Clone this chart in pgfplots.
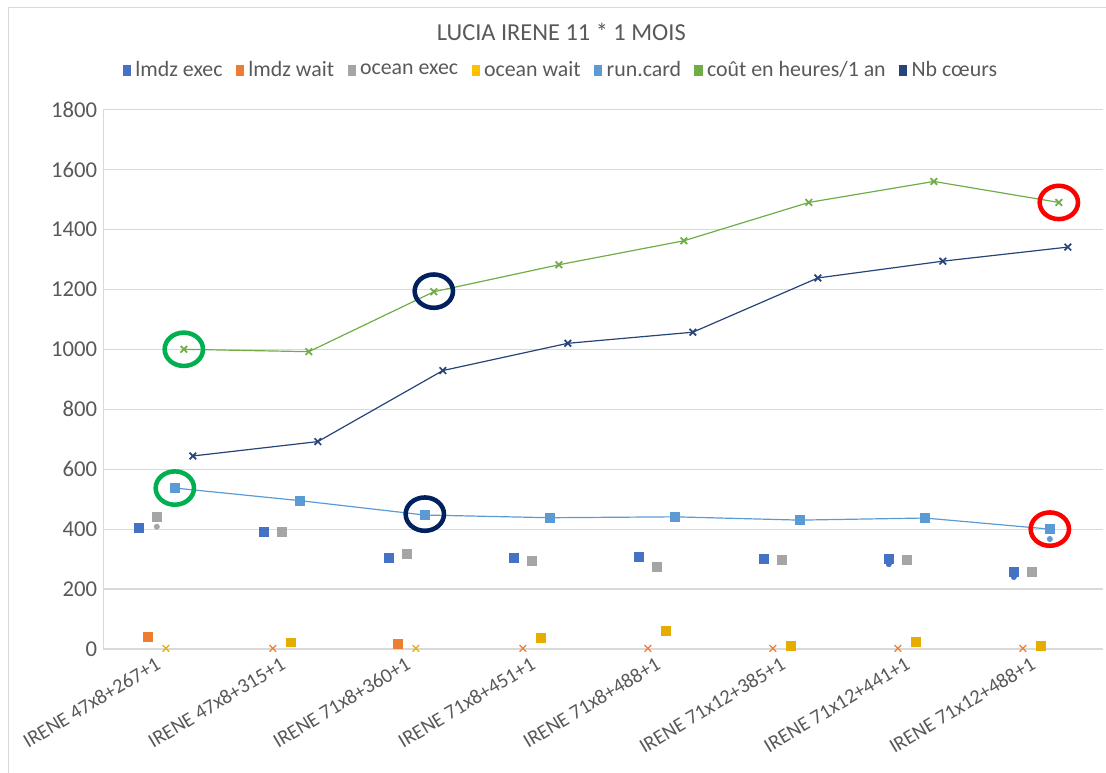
\documentclass[border=0pt]{standalone}
\usepackage{fontspec}
\setmainfont{Carlito}
\usepackage{pgfplots}
\pgfplotsset{compat=1.18}
\definecolor{cA}{HTML}{4472C4}
\definecolor{cB}{HTML}{ED7D31}
\definecolor{cC}{HTML}{A5A5A5}
\definecolor{cD}{HTML}{FFC000}
\definecolor{cE}{HTML}{5B9BD5}
\definecolor{cF}{HTML}{70AD47}
\definecolor{cG}{HTML}{264478}
\definecolor{txt}{HTML}{595959}
\definecolor{grd}{HTML}{D9D9D9}
\definecolor{cgreen}{HTML}{00B050}
\definecolor{cnavy}{HTML}{002060}
\begin{document}
\begin{tikzpicture}
\useasboundingbox (0,0) rectangle (829.5pt,579.75pt);
\draw[grd, line width=0.75pt] (6pt,0pt) -- (6pt,573.75pt) -- (829.5pt,573.75pt);
\begin{axis}[
  at={(77.5pt,93pt)}, anchor=south west,
  scale only axis, width=750pt, height=404.6pt,
  xmin=-0.5, xmax=7.5, ymin=0, ymax=1800,
  ytick={0,200,...,1800},
  xtick={0,1,...,7},
  xticklabels={IRENE 47x8+267+1,IRENE 47x8+315+1,IRENE 71x8+360+1,IRENE 71x8+451+1,IRENE 71x8+488+1,IRENE 71x12+385+1,IRENE 71x12+441+1,IRENE 71x12+488+1},
  xticklabel style={rotate=31, anchor=north east, xshift=-5.5pt, yshift=5pt, font=\fontsize{15.3}{18}\selectfont},
  yticklabel style={font=\fontsize{17}{20}\selectfont, xshift=1pt},
  axis lines=left,
  axis line style={grd, line width=0.75pt, -},
  tick style={draw=none},
  ymajorgrids, grid style={grd, line width=0.9pt},
  tick label style={txt},
  /pgf/number format/assume math mode=true,
  /pgf/number format/1000 sep={},
  clip=false,
  legend columns=7,
  legend style={at={(0.458,1.073)}, anchor=center, draw=none, fill=none,
     text=txt, font=\fontsize{16.4}{19}\selectfont,
     /tikz/every odd column/.append style={column sep=1.5pt},
     /tikz/every even column/.append style={column sep=8pt}},
  legend cell align=left,
]
% legend
\addlegendimage{legend image code/.code={\fill[cA] (0pt,-4pt) rectangle (5.5pt,4pt);}}
\addlegendentry{lmdz exec}
\addlegendimage{legend image code/.code={\fill[cB] (0pt,-4pt) rectangle (5.5pt,4pt);}}
\addlegendentry{lmdz wait}
\addlegendimage{legend image code/.code={\fill[cC] (0pt,-4pt) rectangle (5.5pt,4pt);}}
\addlegendentry{ocean exec}
\addlegendimage{legend image code/.code={\fill[cD] (0pt,-4pt) rectangle (5.5pt,4pt);}}
\addlegendentry{ocean wait}
\addlegendimage{legend image code/.code={\fill[cE] (0pt,-4pt) rectangle (5.5pt,4pt);}}
\addlegendentry{run.card}
\addlegendimage{legend image code/.code={\fill[cF] (0pt,-4pt) rectangle (5.5pt,4pt);}}
\addlegendentry{coût en heures/1 an}
\addlegendimage{legend image code/.code={\fill[cG] (0pt,-4pt) rectangle (5.5pt,4pt);}}
\addlegendentry{Nb cœurs}

% lines
\addplot[forget plot, cF, line width=0.9pt, mark=x, mark size=3.5pt, mark options={line width=1.3pt}]
 coordinates {(0.144,1000) (1.144,992) (2.144,1192) (3.144,1282) (4.144,1362) (5.144,1490) (6.144,1560) (7.144,1490)};
\addplot[forget plot, cG, line width=0.9pt, mark=x, mark size=3.5pt, mark options={line width=1.3pt}]
 coordinates {(0.216,644) (1.216,692) (2.216,929) (3.216,1020) (4.216,1057) (5.216,1238) (6.216,1294) (7.216,1341)};
\addplot[forget plot, cE, line width=0.9pt, mark=square*, mark size=3.4pt]
 coordinates {(0.072,537) (1.072,495) (2.072,447) (3.072,438) (4.072,441) (5.072,430) (6.072,437) (7.072,400)};
\addplot[forget plot, only marks, cE, mark=*, mark size=2pt]
 coordinates {(7.072,367)};
% boxes
\addplot[forget plot, only marks, cA, mark=square*, mark size=3.4pt]
 coordinates {(-0.216,404) (0.784,391) (1.784,305) (2.784,304) (3.784,308) (4.784,300) (5.784,301) (6.784,258)};
\addplot[forget plot, only marks, cA, mark=*, mark size=2pt]
 coordinates {(5.784,283) (6.784,240)};
\addplot[forget plot, only marks, cC, mark=square*, mark size=3.4pt]
 coordinates {(-0.072,441) (0.928,390) (1.928,317) (2.928,294) (3.928,274) (4.928,297) (5.928,297) (6.928,257)};
\addplot[forget plot, only marks, cC, mark=*, mark size=2pt]
 coordinates {(-0.072,408)};
\addplot[forget plot, only marks, cB, mark=square*, mark size=3.2pt]
 coordinates {(-0.144,40) (1.856,17)};
\addplot[forget plot, only marks, cB, mark=x, mark size=3.5pt, mark options={line width=0.9pt}]
 coordinates {(0.856,2) (2.856,2) (3.856,2) (4.856,2) (5.856,2) (6.856,2)};
\addplot[forget plot, only marks, cD!90!black, mark=square*, mark size=3.2pt]
 coordinates {(1,23) (3,38) (4,61) (5,11) (6,24) (7,11)};
\addplot[forget plot, only marks, cD!90!black, mark=x, mark size=3.5pt, mark options={line width=0.9pt}]
 coordinates {(0,2) (2,2)};
% annotation circles
\addplot[forget plot, only marks, mark=o, mark size=12.5pt, mark options={draw=cgreen, line width=3.4pt, xscale=1.15}]
 coordinates {(0.144,1000) (0.072,537)};
\addplot[forget plot, only marks, mark=o, mark size=12.5pt, mark options={draw=cnavy, line width=3.4pt, xscale=1.15}]
 coordinates {(2.144,1194) (2.072,450)};
\addplot[forget plot, only marks, mark=o, mark size=12.5pt, mark options={draw=red, line width=3.4pt, xscale=1.15}]
 coordinates {(7.144,1490) (7.072,400)};
\node[txt, font=\fontsize{18.3}{21}\selectfont] at (rel axis cs:0.458,1.144) {LUCIA IRENE 11 * 1 MOIS};
\end{axis}
\end{tikzpicture}
\end{document}
